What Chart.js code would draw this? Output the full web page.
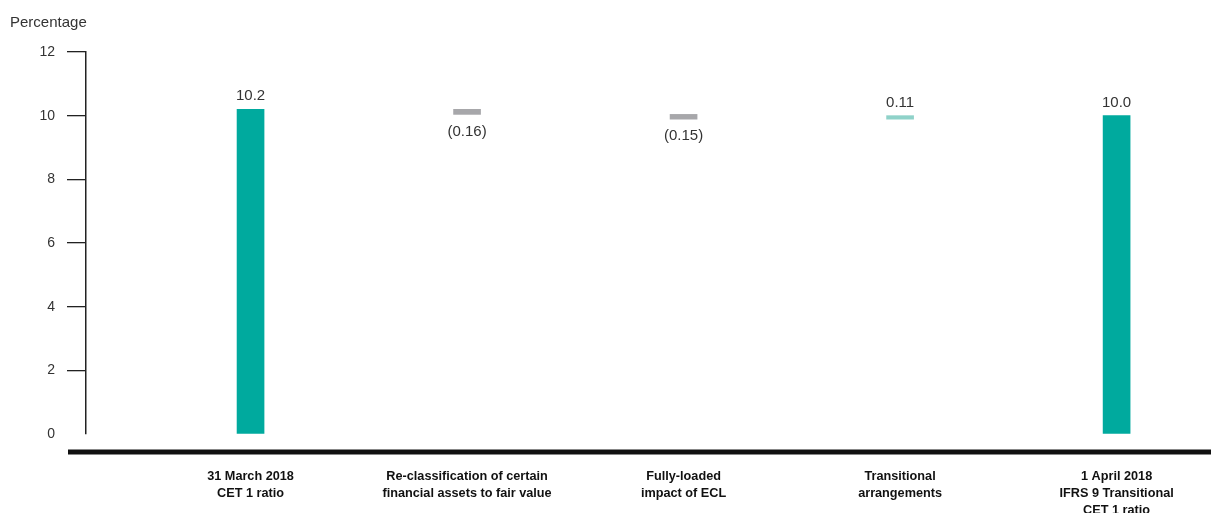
<!DOCTYPE html>
<html>
<head>
<meta charset="utf-8">
<title>CET 1 ratio bridge</title>
<script src="https://cdn.jsdelivr.net/npm/chart.js@4.4.1/dist/chart.umd.min.js"></script>
<style>
  html, body { margin: 0; padding: 0; background: #ffffff; }
  #wrap { width: 1211px; height: 513px; position: relative; }
</style>
</head>
<body>
<div id="wrap"><canvas id="chart"></canvas></div>
<script>
// Steps of the bridge, left to right
const categories = [
  ['31 March 2018', 'CET 1 ratio'],
  ['Re-classification of certain', 'financial assets to fair value'],
  ['Fully-loaded', 'impact of ECL'],
  ['Transitional', 'arrangements'],
  ['1 April 2018', 'IFRS 9 Transitional', 'CET 1 ratio']
];
const openingRatio = 10.2;          // 31 March 2018
const adjustments = [-0.16, -0.15, 0.11];
const closingRatio = 10.0;          // 1 April 2018
const yTickValues = [0, 2, 4, 6, 8, 10, 12];

const TEAL = '#00aa9e';
const LIGHT_TEAL = '#8fd2c9';
const GREY = '#a7a7aa';
const TEXT = '#333333';
const FONT = "'Liberation Sans', Arial, Helvetica, sans-serif";

// Build floating bars: totals start at zero, adjustments float on the running total
const ranges = [];
const labels = [];
const colours = [];
ranges.push([0, openingRatio]);
labels.push(openingRatio.toFixed(1));
colours.push(TEAL);
let running = openingRatio;
adjustments.forEach(d => {
  const next = running + d;
  ranges.push([Math.min(running, next), Math.max(running, next)]);
  labels.push(d < 0 ? '(' + Math.abs(d).toFixed(2) + ')' : d.toFixed(2));
  colours.push(d < 0 ? GREY : LIGHT_TEAL);
  running = next;
});
ranges.push([0, closingRatio]);
labels.push(closingRatio.toFixed(1));
colours.push(TEAL);

const points = ranges.map((r, i) => ({ x: i, y: r }));
const below = [false].concat(adjustments.map(d => d < 0)).concat([false]);

// Value labels above (or below, for reductions) each bar
const valueLabels = {
  id: 'valueLabels',
  afterDatasetsDraw(chart) {
    const ctx = chart.ctx;
    const meta = chart.getDatasetMeta(0);
    ctx.save();
    ctx.font = '15px ' + FONT;
    ctx.fillStyle = TEXT;
    ctx.textAlign = 'center';
    ctx.textBaseline = 'middle';
    meta.data.forEach((el, i) => {
      const p = el.getProps(['x', 'y', 'base'], true);
      const top = Math.min(p.y, p.base);
      const bottom = Math.max(p.y, p.base);
      const y = below[i] ? bottom + 17 : top - 13;
      ctx.fillText(labels[i], p.x, y);
    });
    ctx.restore();
  }
};

// Heavy rule under the plot
const baseRule = {
  id: 'baseRule',
  afterDraw(chart) {
    const ys = chart.scales.y;
    const ctx = chart.ctx;
    const y = ys.getPixelForValue(0) + 18;
    ctx.save();
    ctx.strokeStyle = '#111111';
    ctx.lineWidth = 5;
    ctx.beginPath();
    ctx.moveTo(ys.right - ys.options.grid.tickLength + 1, y);
    ctx.lineTo(chart.width, y);
    ctx.stroke();
    ctx.restore();
  }
};

new Chart(document.getElementById('chart'), {
  type: 'bar',
  data: {
    datasets: [{
      data: points,
      backgroundColor: colours,
      borderWidth: 0,
      barThickness: 27
    }]
  },
  options: {
    responsive: true,
    maintainAspectRatio: false,
    animation: false,
    events: [],
    layout: { padding: { left: 10, right: 0, top: 0, bottom: 0 } },
    plugins: {
      legend: { display: false },
      tooltip: { enabled: false },
      title: {
        display: true,
        text: 'Percentage',
        align: 'start',
        color: TEXT,
        font: { family: FONT, size: 15, weight: 'normal', lineHeight: 1.2 },
        padding: { top: 14, bottom: 20 }
      }
    },
    scales: {
      x: {
        type: 'linear',
        offset: false,
        min: -0.76,
        max: 4.436,
        grid: { display: false },
        border: { display: false },
        afterBuildTicks(scale) {
          scale.ticks = categories.map((c, i) => ({ value: i }));
        },
        afterFit(scale) { scale.height = 79; },
        ticks: {
          autoSkip: false,
          maxRotation: 0,
          padding: 26.5,
          color: '#111111',
          font: { family: FONT, size: 12.7, weight: 'bold', lineHeight: 1.31 },
          callback: (v) => categories[v]
        }
      },
      y: {
        min: 0,
        max: 12,
        afterBuildTicks(scale) {
          scale.ticks = yTickValues.map(v => ({ value: v }));
        },
        afterFit(scale) { scale.width = 76; },
        grid: {
          drawOnChartArea: false,
          drawTicks: true,
          tickLength: 19,
          lineWidth: 1.3,
          color: (c) => (c.tick && c.tick.value === 0 ? 'rgba(0,0,0,0)' : '#222222')
        },
        border: { display: true, color: '#222222', width: 1.5 },
        ticks: {
          padding: 12,
          color: TEXT,
          font: { family: FONT, size: 14 },
          callback: (v) => String(v)
        }
      }
    }
  },
  plugins: [valueLabels, baseRule]
});
</script>
</body>
</html>
